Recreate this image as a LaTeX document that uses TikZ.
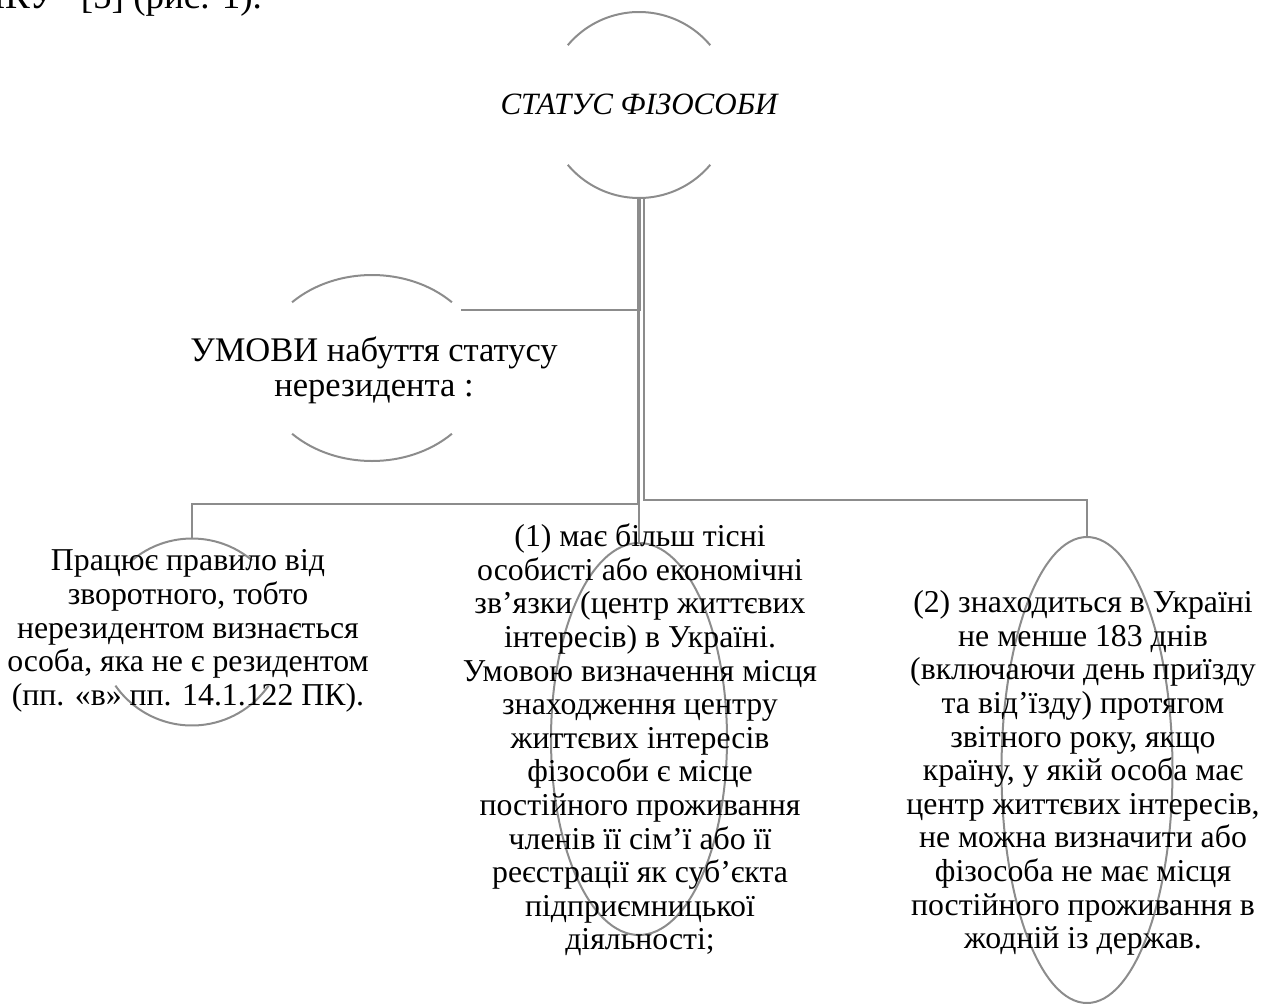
\documentclass[tikz,border=0pt]{standalone}
\usepackage{fontspec}
\setmainfont{Liberation Serif}
\usetikzlibrary{shapes.geometric}
\definecolor{linegray}{RGB}{140,140,140}

\begin{document}
\begin{tikzpicture}[x=1pt,y=1pt,
	  every node/.style={inner sep=0pt,outer sep=0pt},
	  ring/.style={draw=linegray,line width=2pt},
	  link/.style={draw=linegray,line width=2pt}]
	  \tikzstyle{word} = [font=\fontsize{31.8}{33.6}\selectfont,align=center,text=black]
	  \useasboundingbox (0,0) rectangle (1272,-1004);
	  \clip (0,0) rectangle (1272,-1004);
	  \node (t_top) [word,font=\fontsize{37}{40}\selectfont,anchor=base east] at (262,-8) {ПКУ” [5] (рис. 1).};
	  \node (r_0) [circle,minimum size=186] at (639,-105) {};
	  \node (r_u) [ellipse,minimum width=226,minimum height=186] at (372,-368) {};
	  \node (r_1) [circle,minimum size=187] at (192,-632) {};
	  \node (r_2) [ellipse,ring,minimum width=176,minimum height=392] at (639,-739) {};
	  \node (r_3) [ellipse,ring,minimum width=171,minimum height=466] at (1087,-770) {};
	  \draw[ring] (r_0.40) arc[start angle=40,end angle=140,radius=93];
	  \draw[ring] (r_0.220) arc[start angle=220,end angle=320,radius=93];
	  \draw[ring] ([shift={({113*cos(45)},{93*sin(45)})}]r_u.center) arc[start angle=45,end angle=135,x radius=113,y radius=93];
	  \draw[ring] ([shift={({113*cos(225)},{93*sin(225)})}]r_u.center) arc[start angle=225,end angle=315,x radius=113,y radius=93];
	  \draw[ring] (r_1.50) arc[start angle=50,end angle=130,radius=93.5];
	  \draw[ring] (r_1.215) arc[start angle=215,end angle=325,radius=93.5];
	  \draw[link] ([xshift=1]r_0.south) |- (r_u.33);
	  \draw[link] ([xshift=-1]r_0.south) -- ++(0,-306) -| (r_1.north);
	  \draw[link] (r_0.south) -- (r_2.north);
	  \draw[link] ([xshift=5]r_0.south) -- ++(0,-302) -| (r_3.north);
	  \node (t_0) [word,font=\fontsize{31}{33.5}\selectfont\itshape] at (639,-104) {СТАТУС ФІЗОСОБИ};
	  \node (t_u) [word,font=\fontsize{34.5}{35}\selectfont] at (374,-370) {УМОВИ набуття статусу\\нерезидента :};
	  \node (t_1) [word] at (188,-631) {Працює правило від\\зворотного, тобто\\нерезидентом визнається\\особа, яка не є резидентом\\(пп. «в» пп. 14.1.122 ПК).};
	  \node (t_2) [word] at (640,-740) {(1) має більш тісні\\особисті або економічні\\зв’язки (центр життєвих\\інтересів) в Україні.\\Умовою визначення місця\\знаходження центру\\життєвих інтересів\\фізособи є місце\\постійного проживання\\членів її сім’ї або її\\реєстрації як суб’єкта\\підприємницької\\діяльності;};
	  \node (t_3) [word] at (1083,-773) {(2) знаходиться в Україні\\не менше 183 днів\\(включаючи день приїзду\\та від’їзду) протягом\\звітного року, якщо\\країну, у якій особа має\\центр життєвих інтересів,\\не можна визначити або\\фізособа не має місця\\постійного проживання в\\жодній із держав.};
	\end{tikzpicture}
\end{document}
